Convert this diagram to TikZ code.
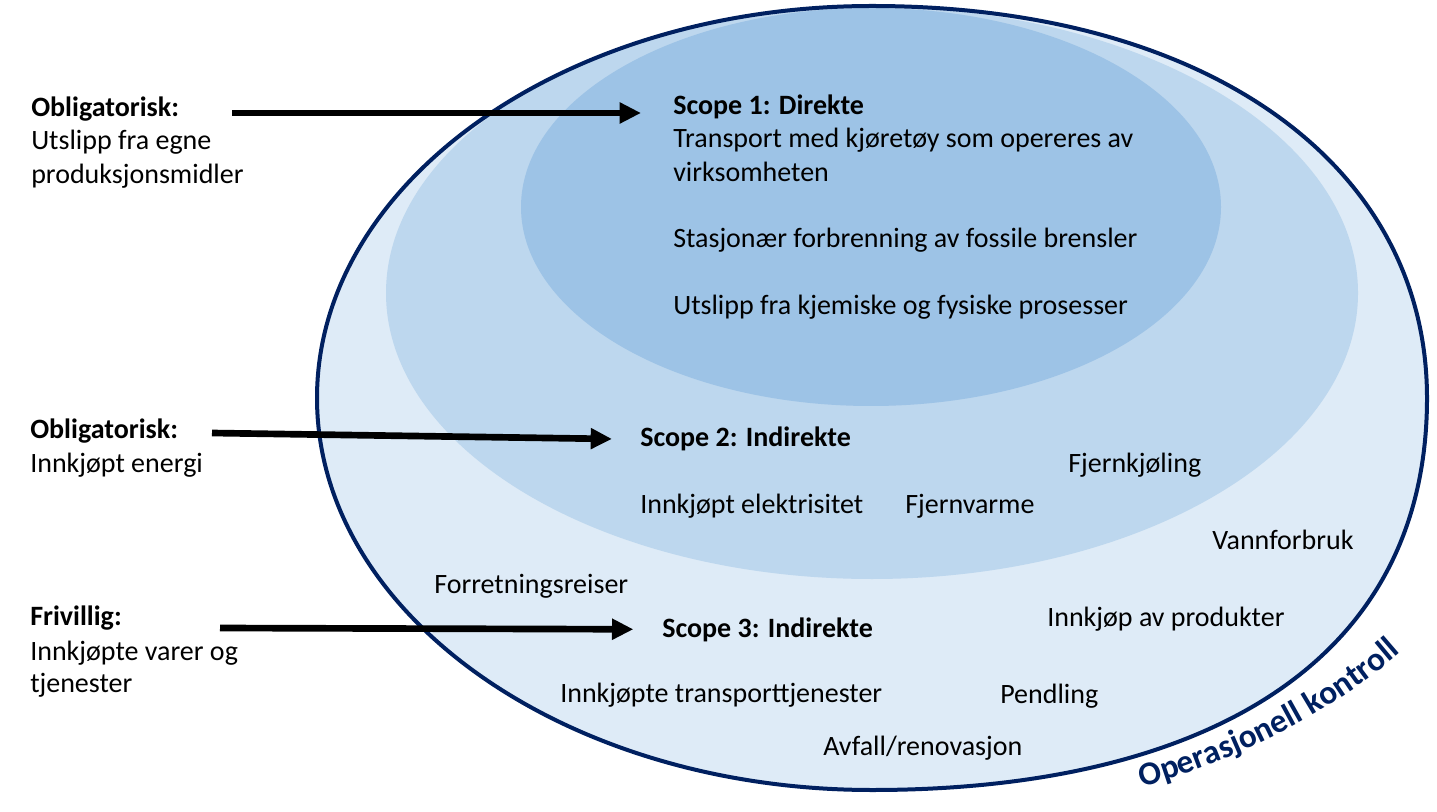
\documentclass[tikz,border=0pt]{standalone}
\usepackage{fontspec}
\setmainfont{Carlito}
\usepackage{xcolor}
\usetikzlibrary{arrows.meta,decorations.text}

\definecolor{navy}{HTML}{002060}
\definecolor{ringout}{HTML}{DEEBF7}
\definecolor{ringmid}{HTML}{BDD7EE}
\definecolor{ringin}{HTML}{9DC3E6}

% outer rim: elliptic on the left, a bit fuller on the right
\newcommand{\outerrim}{(317,413) arc [start angle=180, end angle=90, x radius=555, y radius=392]
  .. controls (1205,805) and (1427,648) .. (1427,413)
  .. controls (1427,139) and (1190,21) .. (872,21)
  arc [start angle=270, end angle=180, x radius=555, y radius=392] -- cycle}

\begin{document}
\begin{tikzpicture}[x=0.75pt, y=0.75pt, >={Triangle[length=16pt,width=15pt]},
  txt/.style={anchor=base west, inner sep=0pt, font=\fontsize{21}{25.5}\selectfont},
  head/.style={txt, font=\fontsize{21}{25.5}\selectfont\bfseries},
  bigarrow/.style={->, line width=5pt}]

\useasboundingbox (0,0) rectangle (1437,811);

% the three scopes
\fill [ringout] \outerrim;
\fill [ringmid] (872,518) ellipse [x radius=486, y radius=286];
\fill [ringin] (871,604) ellipse [x radius=350, y radius=199];
\draw [navy, line width=3pt] \outerrim;

\path [decorate, decoration={text along path, text align=center,
    text={|\fontsize{25}{30}\selectfont\bfseries\color{navy}|Operasjonell kontroll}}]
  (872,413) ++(-77:658 and 427) arc [start angle=-77, end angle=-22, x radius=658, y radius=427];

% left side
\node [head] (oblig-1) at (31,694) {Obligatorisk:};
\node [txt] (egne) at (31,661) {Utslipp fra egne};
\node [txt] (midler) at (31,627) {produksjonsmidler};

\node [head] (oblig-2) at (30,373) {Obligatorisk:};
\node [txt] (energi) at (30,339) {Innkjøpt energi};

\node [head] (frivillig) at (30,186) {Frivillig:};
\node [txt] (varer) at (30,151) {Innkjøpte varer og};
\node [txt] (tjenester) at (30,119) {tjenester};

% scope 1
\node [head] (scope-1) at (673,696) {Scope 1: Direkte};
\node [txt] (transport) at (673,663) {Transport med kjøretøy som opereres av};
\node [txt] (virksomhet) at (673,629) {virksomheten};
\node [txt] (stasjonaer) at (673,563) {Stasjonær forbrenning av fossile brensler};
\node [txt] (prosesser) at (673,496) {Utslipp fra kjemiske og fysiske prosesser};

% scope 2
\node [head] (scope-2) at (640,364) {Scope 2: Indirekte};
\node [txt] (elektrisitet) at (640,298) {Innkjøpt elektrisitet};
\node [txt] (fjernvarme) at (905,298) {Fjernvarme};
\node [txt] (fjernkjoling) at (1068,339) {Fjernkjøling};

% scope 3
\node [head] (scope-3) at (662,174) {Scope 3: Indirekte};
\node [txt] (vann) at (1212,262) {Vannforbruk};
\node [txt] (reiser) at (434,218) {Forretningsreiser};
\node [txt] (produkter) at (1047,185) {Innkjøp av produkter};
\node [txt] (transporttj) at (560,109) {Innkjøpte transporttjenester};
\node [txt] (pendling) at (1000,108) {Pendling};
\node [txt] (avfall) at (823,56) {Avfall/renovasjon};

% arrows
\coordinate (tail-1) at (232,698);
\coordinate (tail-2) at (212,378);
\coordinate (tail-3) at (220,183);

\draw [bigarrow, shorten >=24pt] (tail-1) -- (tail-1 -| scope-1.west);
\draw [bigarrow, shorten >=21pt] (tail-2) -- (scope-2.west);
\draw [bigarrow, shorten >=21.5pt] (tail-3) -- (scope-3.west);

\end{tikzpicture}
\end{document}
